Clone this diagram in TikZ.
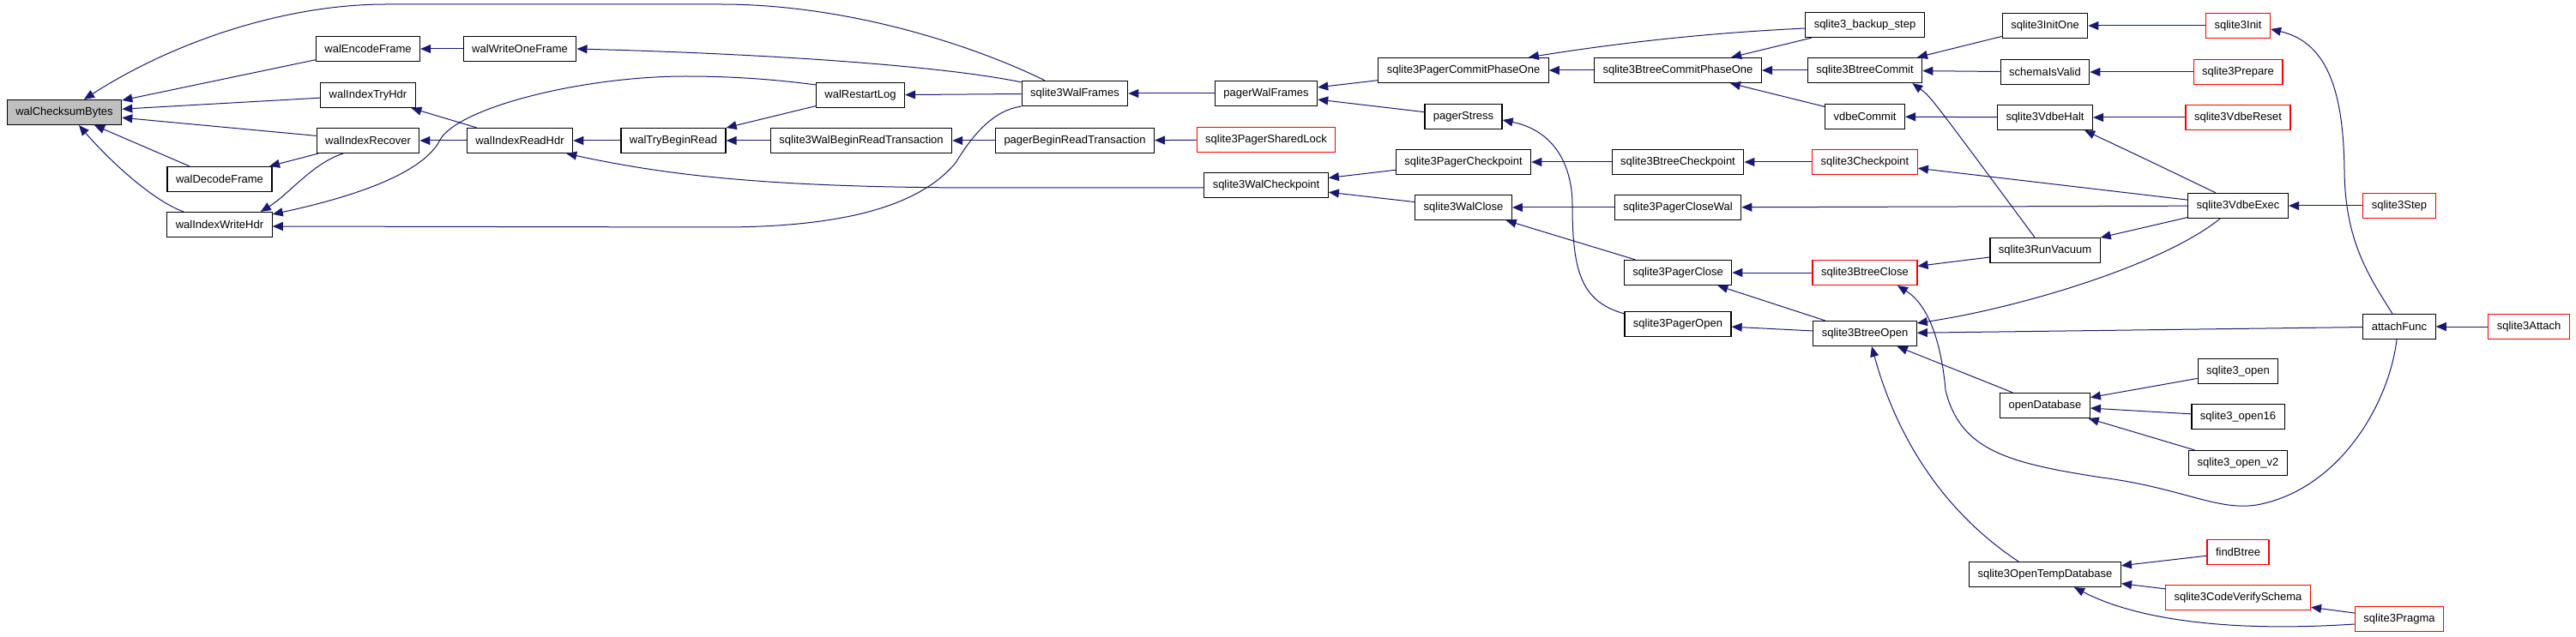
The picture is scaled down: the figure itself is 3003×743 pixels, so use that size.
\documentclass[tikz,border=0pt]{standalone}
\usepackage{fontspec}
\setmainfont{Liberation Sans}
\usetikzlibrary{arrows.meta}
\definecolor{edgeblue}{HTML}{191970}

\begin{document}
\begin{tikzpicture}[x=1pt,y=-1pt,font=\fontsize{13}{15}\selectfont,
 fn/.style={draw=black,fill=white,line width=1.2pt,minimum height=29pt,inner xsep=10pt,inner ysep=0pt},
 redfn/.style={fn,draw=red},
 call/.style={draw=edgeblue,line width=1pt,{Triangle[length=12pt,width=10pt]}-}]
\useasboundingbox (0,0) rectangle (3003,743);
% one column per call depth, pixel coordinates (y grows downwards)
\node[fn,fill=black!25] (chk) at (75,131) {walChecksumBytes};
\node[fn] (dec) at (256,209) {walDecodeFrame};
\node[fn] (wrhdr) at (256,262) {walIndexWriteHdr};
\node[fn] (enc) at (429,57) {walEncodeFrame};
\node[fn] (tryhdr) at (429,111) {walIndexTryHdr};
\node[fn] (recov) at (429,164) {walIndexRecover};
\node[fn] (onefr) at (606,57) {walWriteOneFrame};
\node[fn] (rdhdr) at (606,164) {walIndexReadHdr};
\node[fn] (trybr) at (785,164) {walTryBeginRead};
\node[fn] (restart) at (1003,111) {walRestartLog};
\node[fn] (walbrt) at (1004,164) {sqlite3WalBeginReadTransaction};
\node[fn] (walfr) at (1253,109) {sqlite3WalFrames};
\node[fn] (pgbrt) at (1253,164) {pagerBeginReadTransaction};
\node[fn] (pgwalfr) at (1476,109) {pagerWalFrames};
\node[redfn] (shlock) at (1476,163) {sqlite3PagerSharedLock};
\node[fn] (walckpt) at (1476,216) {sqlite3WalCheckpoint};
\node[fn] (pgcommit) at (1706,82) {sqlite3PagerCommitPhaseOne};
\node[fn] (stress) at (1706,136) {pagerStress};
\node[fn] (pgckpt) at (1706,189) {sqlite3PagerCheckpoint};
\node[fn] (walclose) at (1706,242) {sqlite3WalClose};
\node[fn] (btcommit1) at (1956,82) {sqlite3BtreeCommitPhaseOne};
\node[fn] (btckpt) at (1956,189) {sqlite3BtreeCheckpoint};
\node[fn] (closewal) at (1956,242) {sqlite3PagerCloseWal};
\node[fn] (pgclose) at (1956,318) {sqlite3PagerClose};
\node[fn] (pgopen) at (1956,378) {sqlite3PagerOpen};
\node[fn] (backup) at (2174,29) {sqlite3\_backup\_step};
\node[fn] (btcommit) at (2174,82) {sqlite3BtreeCommit};
\node[fn] (vdbecommit) at (2174,136) {vdbeCommit};
\node[redfn] (ckpt) at (2174,189) {sqlite3Checkpoint};
\node[redfn] (btclose) at (2174,318) {sqlite3BtreeClose};
\node[fn] (btopen) at (2174,389) {sqlite3BtreeOpen};
\node[fn] (initone) at (2384,30) {sqlite3InitOne};
\node[fn] (schema) at (2384,84) {schemaIsValid};
\node[fn] (halt) at (2384,137) {sqlite3VdbeHalt};
\node[fn] (vacuum) at (2384,292) {sqlite3RunVacuum};
\node[fn] (opendb) at (2384,473) {openDatabase};
\node[fn] (tempdb) at (2384,670) {sqlite3OpenTempDatabase};
\node[redfn] (init) at (2609,30) {sqlite3Init};
\node[redfn] (prepare) at (2609,84) {sqlite3Prepare};
\node[redfn] (reset) at (2609,137) {sqlite3VdbeReset};
\node[fn] (exec) at (2609,240) {sqlite3VdbeExec};
\node[fn] (open) at (2609,433) {sqlite3\_open};
\node[fn] (open16) at (2609,486) {sqlite3\_open16};
\node[fn] (openv2) at (2609,540) {sqlite3\_open\_v2};
\node[redfn] (findbt) at (2609,644) {findBtree};
\node[redfn] (verify) at (2609,697) {sqlite3CodeVerifySchema};
\node[redfn] (step) at (2797,240) {sqlite3Step};
\node[fn] (attach) at (2797,381) {attachFunc};
\node[redfn] (pragma) at (2797,722) {sqlite3Pragma};
\node[redfn] (sqattach) at (2948,381) {sqlite3Attach};
% straight calls: callee/caller
\foreach \a/\b in {chk/enc,chk/tryhdr,chk/recov,chk/dec,enc/onefr,tryhdr/rdhdr,
  recov/rdhdr,dec/recov,rdhdr/trybr,trybr/restart,trybr/walbrt,walbrt/pgbrt,
  pgbrt/shlock,restart/walfr,walfr/pgwalfr,pgwalfr/pgcommit,pgwalfr/stress,
  pgcommit/btcommit1,btcommit1/backup,btcommit1/btcommit,btcommit1/vdbecommit,
  btcommit/initone,btcommit/schema,initone/init,schema/prepare,vdbecommit/halt,
  halt/reset,walckpt/pgckpt,walckpt/walclose,pgckpt/btckpt,btckpt/ckpt,ckpt/exec,
  walclose/closewal,walclose/pgclose,closewal/exec,pgclose/btclose,pgclose/btopen,
  btclose/vacuum,vacuum/exec,exec/step,pgopen/btopen,btopen/attach,btopen/opendb,
  attach/sqattach,opendb/open,opendb/open16,opendb/openv2,tempdb/findbt,
  tempdb/verify,verify/pragma}
  \draw[call] (\a) -- (\b);
% curved calls
\draw[call] ([xshift=23pt]chk.north) .. controls (200,50) and (330,5) .. (450,5)
  -- (840,5) .. controls (1000,5) and (1150,60) .. ([xshift=-35pt]walfr.north);
\draw[call] ([xshift=17pt]chk.south) .. controls (130,190) and (180,235) .. ([xshift=-42pt]wrhdr.north);
\draw[call] ([xshift=-14pt]wrhdr.north east) .. controls (335,228) and (365,190) .. ([xshift=-29pt]recov.south);
\draw[call] ([yshift=-3pt]wrhdr.north east) .. controls (420,228) and (495,200) .. (513,163)
  .. controls (535,125) and (680,89) .. (799,89) .. controls (870,89) and (920,95) .. ([yshift=-3pt]restart.north west);
\draw[call] ([yshift=-2pt]wrhdr.east) -- (840,265) .. controls (1010,265) and (1080,230) .. (1114,190)
  .. controls (1135,155) and (1160,128) .. (walfr.south west);
\draw[call] (onefr.east) .. controls (900,63) and (1100,77) .. ([yshift=-2pt]walfr.north west);
\draw[call] ([xshift=-8pt]rdhdr.south east) .. controls (780,205) and (900,219) .. (1150,219)
  -- ([yshift=-3pt]walckpt.west);
\draw[call] ([xshift=-24pt]pgcommit.north east) .. controls (1900,48) and (2000,38) .. ([yshift=-4pt]backup.west);
\draw[call] ([yshift=-4pt]stress.east) .. controls (1810,152) and (1833,190) .. (1833,240)
  .. controls (1833,320) and (1845,352) .. ([yshift=-3pt]pgopen.north west);
\draw[call] ([xshift=-12pt]btcommit.south east) .. controls (2250,112) .. ([xshift=-12pt]vacuum.north);
\draw[call] ([xshift=-10pt]halt.south east) .. controls (2500,185) .. ([xshift=-26pt]exec.north);
\draw[call] ([xshift=38pt]btclose.south) .. controls (2255,360) and (2265,420) .. (2268,455)
  .. controls (2285,525) and (2340,540) .. (2450,557) .. controls (2550,570) and (2590,600) .. (2640,587)
  .. controls (2730,565) and (2785,470) .. ([xshift=-3pt]attach.south);
\draw[call] ([yshift=-3pt]btopen.north east) .. controls (2350,360) and (2520,310) .. ([xshift=-21pt]exec.south);
\draw[call] ([xshift=8pt]btopen.south) .. controls (2200,470) and (2240,580) .. ([xshift=-31pt]tempdb.north);
\draw[call] ([yshift=-4pt]init.east) .. controls (2715,50) and (2732,110) .. (2733,200)
  .. controls (2734,280) and (2760,320) .. ([xshift=-8pt]attach.north);
\draw[call] ([xshift=34pt]tempdb.south) .. controls (2470,712) and (2560,740) .. ([yshift=-6pt]pragma.west);
\end{tikzpicture}
\end{document}
